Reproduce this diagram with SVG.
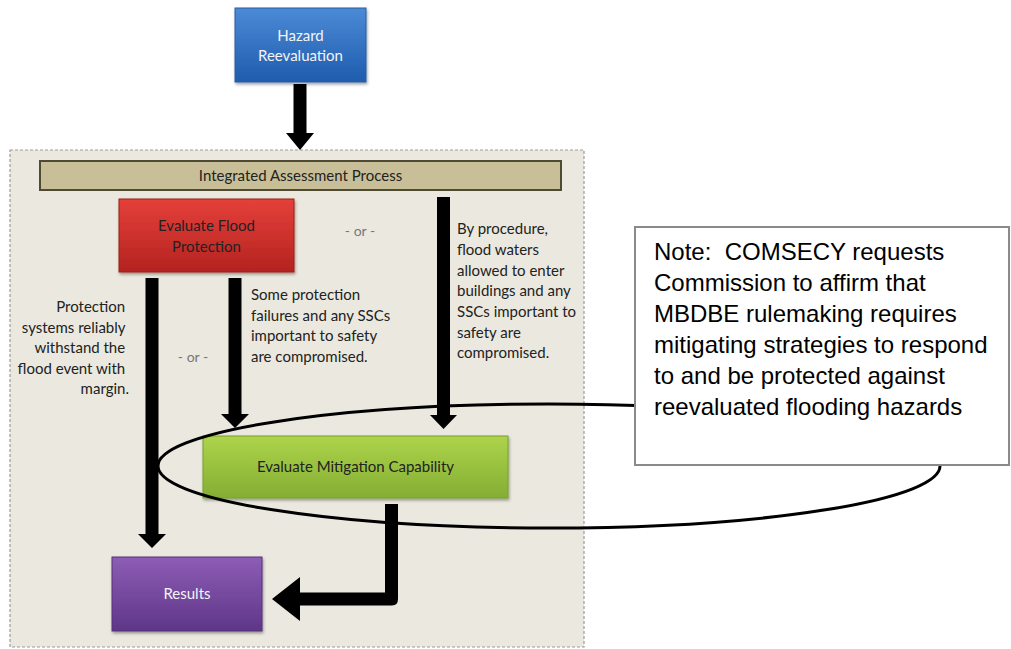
<svg xmlns="http://www.w3.org/2000/svg" width="1011" height="649" viewBox="0 0 1011 649">
  <style>
    .lbl { font-family: Lato, "Open Sans", "DejaVu Sans", sans-serif; font-size: 15px; fill: #222; }
    .wht { fill: #f4f4f4; }
    .or { font-family: Lato, "Open Sans", sans-serif; font-size: 14px; fill: #777; }
    .note { font-family: "Liberation Sans", Arial, sans-serif; font-size: 24px; fill: #000; }
    .arrow { fill: #000; }
  </style>
  <defs>
    <linearGradient id="gBlue" x1="0" y1="0" x2="0" y2="1">
      <stop offset="0" stop-color="#4B8AD6"/>
      <stop offset="1" stop-color="#1F5CAE"/>
    </linearGradient>
    <linearGradient id="gRed" x1="0" y1="0" x2="0" y2="1">
      <stop offset="0" stop-color="#E5403A"/>
      <stop offset="1" stop-color="#B42320"/>
    </linearGradient>
    <linearGradient id="gGreen" x1="0" y1="0" x2="0" y2="1">
      <stop offset="0" stop-color="#ADD44A"/>
      <stop offset="1" stop-color="#84AE34"/>
    </linearGradient>
    <linearGradient id="gPurple" x1="0" y1="0" x2="0" y2="1">
      <stop offset="0" stop-color="#8D5DB5"/>
      <stop offset="1" stop-color="#5E3688"/>
    </linearGradient>
    <filter id="shadow" x="-10%" y="-10%" width="125%" height="135%">
      <feDropShadow dx="1" dy="2" stdDeviation="1.5" flood-color="#000" flood-opacity="0.35"/>
    </filter>
  </defs>

  <!-- white page -->
  <rect x="0" y="0" width="1011" height="649" fill="#fff"/>

  <!-- assessment panel -->
  <rect x="10" y="150" width="574" height="497" fill="#EBE9DF" stroke="#9c9c9c" stroke-width="1.2" stroke-dasharray="3 2"/>

  <!-- Hazard Reevaluation -->
  <g id="hazard">
    <rect x="235" y="8" width="131" height="74" fill="url(#gBlue)" stroke="#2a5c9e" stroke-width="1" filter="url(#shadow)"/>
    <text class="lbl wht" x="300.5" y="40.5" text-anchor="middle">Hazard</text>
    <text class="lbl wht" x="300.5" y="61" text-anchor="middle">Reevaluation</text>
  </g>

  <!-- Integrated Assessment Process -->
  <g id="integrated">
    <rect x="40" y="161" width="521" height="29" fill="#C8BF98" stroke="#4E4A33" stroke-width="2"/>
    <text class="lbl" x="300.5" y="180.5" text-anchor="middle">Integrated Assessment Process</text>
  </g>

  <!-- Evaluate Flood Protection -->
  <g id="flood">
    <rect x="119" y="199" width="175" height="73" fill="url(#gRed)" stroke="#9c1e1b" stroke-width="1" filter="url(#shadow)"/>
    <text class="lbl" x="206.5" y="231" text-anchor="middle" fill="#3a1010">Evaluate Flood</text>
    <text class="lbl" x="206.5" y="252" text-anchor="middle" fill="#3a1010">Protection</text>
  </g>

  <!-- Evaluate Mitigation Capability -->
  <g id="mitigation">
    <rect x="203" y="436" width="305" height="62" fill="url(#gGreen)" stroke="#76A02E" stroke-width="1" filter="url(#shadow)"/>
    <text class="lbl" x="355.5" y="472" text-anchor="middle">Evaluate Mitigation Capability</text>
  </g>

  <!-- Results -->
  <g id="results">
    <rect x="112" y="557" width="150" height="74" fill="url(#gPurple)" stroke="#54307a" stroke-width="1" filter="url(#shadow)"/>
    <text class="lbl wht" x="187" y="599" text-anchor="middle">Results</text>
  </g>

  <!-- branch labels -->
  <g id="branch-labels">
    <text class="or" x="360" y="236" text-anchor="middle">- or -</text>
    <text class="or" x="193" y="362" text-anchor="middle">- or -</text>

    <text class="lbl" text-anchor="end">
      <tspan x="129" y="312">Protection</tspan>
      <tspan x="129" y="332.5">systems reliably</tspan>
      <tspan x="129" y="353">withstand the</tspan>
      <tspan x="129" y="373.5">flood event with</tspan>
      <tspan x="129" y="394">margin.</tspan>
    </text>

    <text class="lbl">
      <tspan x="251" y="300">Some protection</tspan>
      <tspan x="251" y="320.5">failures and any SSCs</tspan>
      <tspan x="251" y="341">important to safety</tspan>
      <tspan x="251" y="361.5">are compromised.</tspan>
    </text>

    <text class="lbl">
      <tspan x="457" y="234">By procedure,</tspan>
      <tspan x="457" y="255">flood waters</tspan>
      <tspan x="457" y="275.5">allowed to enter</tspan>
      <tspan x="457" y="296">buildings and any</tspan>
      <tspan x="457" y="317">SSCs important to</tspan>
      <tspan x="457" y="337.5">safety are</tspan>
      <tspan x="457" y="358">compromised.</tspan>
    </text>
  </g>

  <!-- connectors: thick block arrows -->
  <g id="connectors" class="arrow">
    <!-- Hazard -> Integrated -->
    <polygon points="293.5,84 306.5,84 306.5,133 314,133 300,150 286,133 293.5,133"/>
    <!-- Flood protection holds -> Results -->
    <polygon points="145.5,278 158.5,278 158.5,534 166,534 152,548 138,534 145.5,534"/>
    <!-- Some failures -> Mitigation -->
    <polygon points="228.5,278 241.5,278 241.5,414 249,414 235,428 221,414 228.5,414"/>
    <!-- By procedure -> Mitigation -->
    <polygon points="437,197 450,197 450,415 457,415 443.5,429 430,415 437,415"/>
    <!-- Mitigation -> Results (elbow) -->
    <path d="M385,504 H398 V599 Q398,605.5 392,605.5 H300 V621 L272,599 L300,577 V592.5 H385 Z"/>
  </g>

  <!-- callout ellipse around the mitigation step -->
  <g id="callout-ring">
    <ellipse cx="549" cy="466" rx="391" ry="62" fill="none" stroke="#000" stroke-width="3"/>
  </g>

  <!-- Note -->
  <g id="note">
    <rect x="635" y="227" width="374" height="238" fill="#fff" stroke="#8a8a8a" stroke-width="2"/>
    <text class="note" xml:space="preserve">
      <tspan x="654" y="260">Note:  COMSECY requests</tspan>
      <tspan x="654" y="291">Commission to affirm that</tspan>
      <tspan x="654" y="322">MBDBE rulemaking requires</tspan>
      <tspan x="654" y="353">mitigating strategies to respond</tspan>
      <tspan x="654" y="384">to and be protected against</tspan>
      <tspan x="654" y="415">reevaluated flooding hazards</tspan>
    </text>
  </g>
</svg>
